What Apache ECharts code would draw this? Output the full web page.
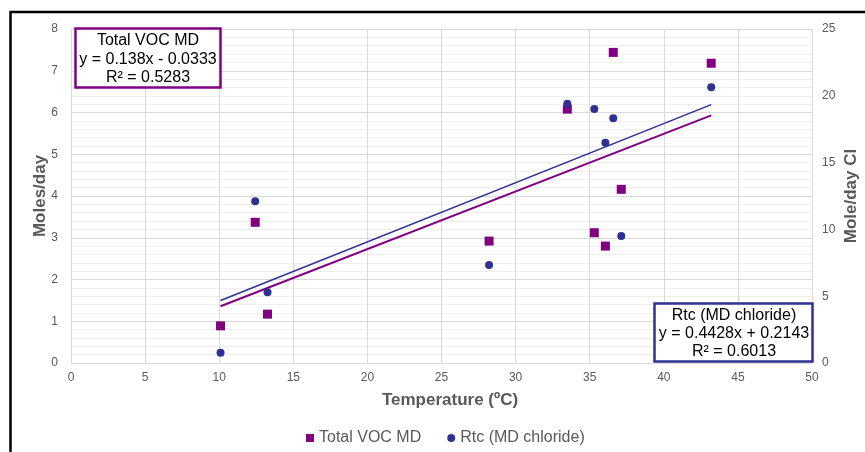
<!DOCTYPE html>
<html>
<head>
<meta charset="utf-8">
<script src="https://cdn.jsdelivr.net/npm/echarts@6/dist/echarts.min.js"></script>
<style>html,body{margin:0;padding:0;background:#fff;}#c{width:865px;height:452px;}</style>
</head>
<body>
<div id="c"></div>
<script>
// Data
const temperature = [10.09, 12.43, 13.26, 28.21, 33.49, 35.31, 36.06, 36.59, 37.13, 43.2];
const totalVocMD = [0.89, 3.37, 1.17, 2.92, 6.08, 3.12, 2.80, 7.44, 4.16, 7.18];
const rtcChloride = [0.77, 12.10, 5.29, 7.34, 19.41, 19.01, 16.49, 18.32, 9.51, 20.64];
// Trend line endpoints as drawn in the reference
const vocTrendX = [10.09, 43.2];
const vocTrendY = [1.36, 5.93];
const rtcTrendX = [10.09, 43.2];
const rtcTrendY = [4.68, 19.34];
const seriesNames = ['Total VOC MD', 'Rtc (MD chloride)'];

const vocPts = temperature.map((x, i) => [x, totalVocMD[i]]);
const rtcPts = temperature.map((x, i) => [x, rtcChloride[i]]);
const vocTrend = vocTrendX.map((x, i) => [x, vocTrendY[i]]);
const rtcTrend = rtcTrendX.map((x, i) => [x, rtcTrendY[i]]);

const FONT = '"Liberation Sans", Arial, sans-serif';
const chart = echarts.init(document.getElementById('c'), null, {renderer: 'canvas'});
const boxText = (x, y, t) => ({type: 'text', x: x, y: y, z: 102,
  style: {text: t, font: '16px ' + FONT, fill: '#000', align: 'center', verticalAlign: 'middle'}});
chart.setOption({
  animation: false,
  textStyle: {fontFamily: FONT},
  grid: {left: 71, right: 53, top: 29, bottom: 89, containLabel: false},
  legend: {
    data: [{name: seriesNames[0], icon: 'rect'}, {name: seriesNames[1], icon: 'circle'}],
    left: 306, top: 430, padding: 0, itemWidth: 8, itemHeight: 8, itemGap: 26,
    textStyle: {fontSize: 16, color: '#595959', fontFamily: FONT}
  },
  xAxis: {
    type: 'value', min: 0, max: 50, interval: 5,
    axisLine: {show: false}, axisTick: {show: false},
    axisLabel: {fontSize: 12, color: '#595959', margin: 9, fontFamily: FONT},
    splitLine: {show: true, lineStyle: {color: '#d9d9d9', width: 1}}
  },
  yAxis: [{
    type: 'value', min: 0, max: 8, interval: 1,
    axisLine: {show: false}, axisTick: {show: false},
    axisLabel: {fontSize: 12, color: '#595959', margin: 13, fontFamily: FONT},
    splitLine: {show: true, lineStyle: {color: '#d9d9d9', width: 1}},
    minorTick: {show: false, splitNumber: 5},
    minorSplitLine: {show: true, lineStyle: {color: '#eeeeee', width: 1}}
  }, {
    type: 'value', min: 0, max: 25, interval: 5, position: 'right',
    axisLine: {show: false}, axisTick: {show: false},
    axisLabel: {fontSize: 12, color: '#595959', margin: 10, fontFamily: FONT},
    splitLine: {show: false}
  }],
  graphic: [
    {type: 'rect', z: 100, shape: {x: 10.5, y: 12, width: 900, height: 500}, style: {fill: 'none', stroke: '#000', lineWidth: 2.5}},
    {type: 'text', x: 40, y: 196, rotation: Math.PI / 2,
      style: {text: 'Moles/day', font: 'bold 17px ' + FONT, fill: '#595959', align: 'center', verticalAlign: 'middle'}},
    {type: 'text', x: 851, y: 196, rotation: Math.PI / 2,
      style: {text: 'Mole/day Cl', font: 'bold 17px ' + FONT, fill: '#595959', align: 'center', verticalAlign: 'middle'}},
    {type: 'text', x: 450, y: 400,
      style: {text: 'Temperature (ºC)', font: 'bold 17px ' + FONT, fill: '#595959', align: 'center', verticalAlign: 'middle'}},
    {type: 'rect', z: 101, shape: {x: 75.5, y: 28.5, width: 145, height: 59}, style: {fill: '#fff', stroke: '#800080', lineWidth: 2.5}},
    boxText(148, 41, 'Total VOC MD'),
    boxText(148, 59.5, 'y = 0.138x - 0.0333'),
    boxText(148, 78, 'R² = 0.5283'),
    {type: 'rect', z: 101, shape: {x: 654.5, y: 303.5, width: 158, height: 58}, style: {fill: '#fff', stroke: '#2E3192', lineWidth: 2.5}},
    boxText(734, 315.5, 'Rtc (MD chloride)'),
    boxText(734, 334, 'y = 0.4428x + 0.2143'),
    boxText(734, 352, 'R² = 0.6013')
  ],
  series: [
    {name: 'vocTrend', type: 'line', yAxisIndex: 0, data: vocTrend, showSymbol: false, silent: true,
      lineStyle: {color: '#800080', width: 2}, z: 2},
    {name: 'rtcTrend', type: 'line', yAxisIndex: 1, data: rtcTrend, showSymbol: false, silent: true,
      lineStyle: {color: '#2E3192', width: 1.5}, z: 2},
    {name: seriesNames[0], type: 'scatter', yAxisIndex: 0, data: vocPts, symbol: 'rect', symbolSize: 9,
      itemStyle: {color: '#800080', opacity: 1}, z: 3},
    {name: seriesNames[1], type: 'scatter', yAxisIndex: 1, data: rtcPts, symbol: 'circle', symbolSize: 8,
      itemStyle: {color: '#2E3192', opacity: 1}, z: 4}
  ]
});
</script>
</body>
</html>
